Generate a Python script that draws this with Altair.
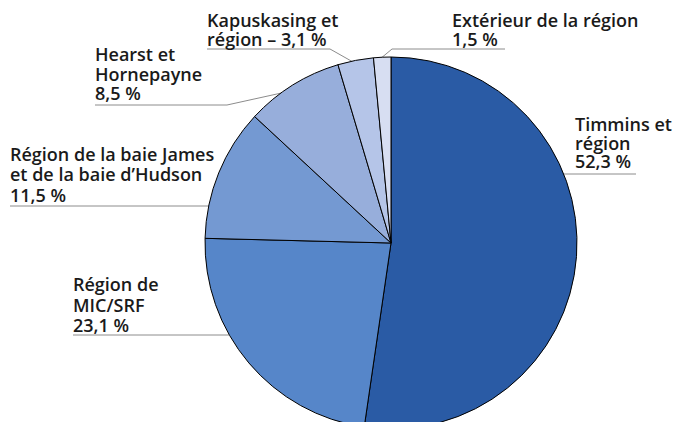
import math
import altair as alt
import pandas as pd

# ---- data ----
categories = [
    "Timmins et région",
    "Région de MIC/SRF",
    "Région de la baie James et de la baie d’Hudson",
    "Hearst et Hornepayne",
    "Kapuskasing et région",
    "Extérieur de la région",
]
values = [52.3, 23.1, 11.5, 8.5, 3.1, 1.5]
colors = ["#2a5ba5", "#5686c9", "#7499d2", "#97aedb", "#b5c5e8", "#d7def2"]

label_lines = [
    ["Timmins et", "région", "52,3 %"],
    ["Région de", "MIC/SRF", "23,1 %"],
    ["Région de la baie James", "et de la baie d’Hudson", "11,5 %"],
    ["Hearst et", "Hornepayne", "8,5 %"],
    ["Kapuskasing et", "région – 3,1 %"],
    ["Extérieur de la région", "1,5 %"],
]

# ---- layout (page pixels) ----
OFF = 8
CX, CY, R = 391 - OFF, 243 - OFF, 186
W, H = 665, 414

# text left x, first baseline, line step per label
label_pos = [(575, 131, 18.5), (73, 291, 20.5), (10, 161, 20.3), (95, 61, 19.5), (207, 27, 19), (452, 27, 19)]

# leader polylines (page px)
leaders = [
    [(563, 174), (636, 174)],
    [(73, 335), (229, 335)],
    [(10, 206), (209, 206)],
    [(95, 105), (227, 105), (286, 92)],
    [(207, 49), (330, 49), (353, 62)],
    [(380, 59), (392, 49), (505, 49)],
]

pie_df = pd.DataFrame({"cat": categories, "value": values, "idx": list(range(len(values)))})

rows = []
for lines, (lx, ly, step) in zip(label_lines, label_pos):
    for i, t in enumerate(lines):
        rows.append({"text": t, "x": lx - OFF, "y": ly - OFF + i * step})
text_df = pd.DataFrame(rows)

segs = []
for poly in leaders:
    for (x1, y1), (x2, y2) in zip(poly[:-1], poly[1:]):
        segs.append({"x": x1 - OFF, "y": y1 - OFF, "x2": x2 - OFF, "y2": y2 - OFF})
seg_df = pd.DataFrame(segs)

pie = alt.Chart(pie_df).mark_arc(outerRadius=R, stroke="#000000", strokeWidth=1).encode(
    theta=alt.Theta("value:Q", stack=True),
    order=alt.Order("idx:Q"),
    color=alt.Color("cat:N", scale=alt.Scale(domain=categories, range=colors), legend=None),
    x=alt.value(CX),
    y=alt.value(CY),
)

rules = alt.Chart(seg_df).mark_rule(color="#8c8c8c", strokeWidth=1).encode(
    x=alt.X("x:Q", scale=None),
    y=alt.Y("y:Q", scale=None),
    x2="x2:Q",
    y2="y2:Q",
)

texts = alt.Chart(text_df).mark_text(
    align="left", baseline="alphabetic", font="Open Sans", fontSize=18, fontWeight=600, color="#1a1a1a"
).encode(
    x=alt.X("x:Q", scale=None),
    y=alt.Y("y:Q", scale=None),
    text="text:N",
)

chart = alt.layer(rules, pie, texts).properties(
    width=W, height=H, autosize=alt.AutoSizeParams(type="none"), padding=0
).configure_view(stroke=None)

chart.save("out.html", embed_options={"renderer": "svg", "actions": False})
